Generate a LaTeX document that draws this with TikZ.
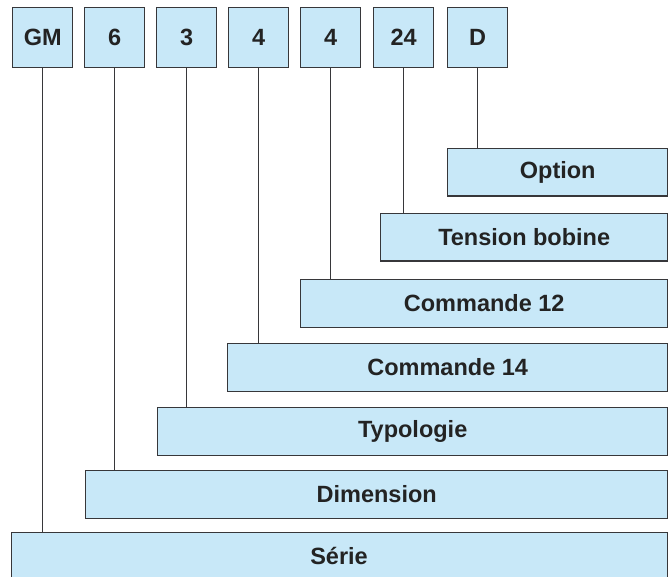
\documentclass[tikz,border=0pt]{standalone}
\usepackage{fontspec}
\setmainfont{Liberation Sans}
\definecolor{boxfill}{RGB}{200,232,248}
\definecolor{edge}{RGB}{55,55,58}
\definecolor{ink}{RGB}{35,35,35}
\begin{document}
\begin{tikzpicture}[x=1pt,y=1pt,
  lbl/.style={font=\fontsize{23.5}{26}\selectfont\bfseries, text=ink},
  box/.style={lbl, draw=edge, line width=1.4pt, fill=boxfill, inner sep=0pt, anchor=north west},
  code/.style={box, minimum width=60, minimum height=60},
  field/.style={box, minimum height=47.5},
  link/.style={draw=edge, line width=1.4pt}]
\clip (0,0) rectangle (668,576);
% top code boxes
\node[code] (gm)    at (12,569)  {GM};
\node[code] (six)   at (84,569)  {6};
\node[code] (three) at (156,569) {3};
\node[code] (fourA) at (228,569) {4};
\node[code] (fourB) at (300,569) {4};
\node[code] (tf)    at (373,569) {24};
\node[code] (d)     at (447,569) {D};
% field boxes
\node[field, minimum width=220] (option)    at (447,428) {Option};
\node[field, minimum width=287] (tension)   at (380,363) {Tension bobine};
\node[field, minimum width=367] (cdouze)    at (300,297) {Commande 12};
\node[field, minimum width=440] (cquatorze) at (227,233) {Commande 14};
\node[field, minimum width=510] (typo)      at (157,169) {Typologie};
\node[field, minimum width=582] (dim)       at (85,106)  {Dimension};
\node[field, minimum width=656, minimum height=56] (serie) at (11,44) {};
\node[lbl] (serietxt) at (339,20) {Série};
% connectors
\draw[link] (gm.south)    -- (gm.south |- serie.north);
\draw[link] (six.south)   -- (six.south |- dim.north);
\draw[link] (three.south) -- (three.south |- typo.north);
\draw[link] (fourA.south) -- (fourA.south |- cquatorze.north);
\draw[link] (fourB.south) -- (fourB.south |- cdouze.north);
\draw[link] (tf.south)    -- (tf.south |- tension.north);
\draw[link] (d.south)     -- (d.south |- option.north);
\end{tikzpicture}
\end{document}
